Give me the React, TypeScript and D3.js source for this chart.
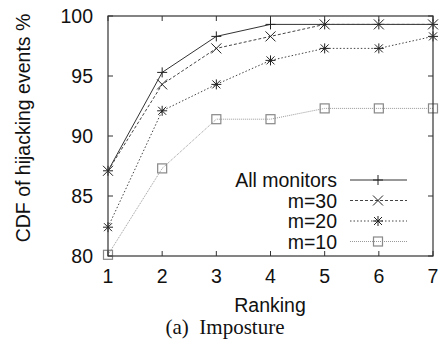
import React from "react";
import * as d3 from "d3";

const rankings = [1, 2, 3, 4, 5, 6, 7];
const seriesNames = ["All monitors", "m=30", "m=20", "m=10"];
const allMonitors = [87.1, 95.3, 98.3, 99.3, 99.3, 99.3, 99.3];
const m30 = [87.1, 94.3, 97.3, 98.3, 99.3, 99.3, 99.3];
const m20 = [82.4, 92.1, 94.3, 96.3, 97.3, 97.3, 98.3];
const m10 = [80.1, 87.3, 91.4, 91.4, 92.3, 92.3, 92.3];
const yTicks = [80, 85, 90, 95, 100];

const W = 442, H = 343;
const M = { left: 108, right: 433, top: 16, bottom: 256 };

const styles = [
  { values: allMonitors, color: "#333", dash: "", marker: "plus", width: 1 },
  { values: m30, color: "#444", dash: "3,2", marker: "cross", width: 1 },
  { values: m20, color: "#444", dash: "1.5,2", marker: "star", width: 1 },
  { values: m10, color: "#999", dash: "1,1", marker: "square", width: 1 },
];

function Marker({ type, x, y, color }: { type: string; x: number; y: number; color: string }) {
  const s = 5;
  if (type === "plus")
    return <path d={`M${x - s},${y}H${x + s}M${x},${y - s}V${y + s}`} stroke={color} strokeWidth={1} fill="none" />;
  if (type === "cross")
    return <path d={`M${x - s},${y - s}L${x + s},${y + s}M${x - s},${y + s}L${x + s},${y - s}`} stroke={color} strokeWidth={1} fill="none" />;
  if (type === "star")
    return (
      <path
        d={`M${x - s},${y}H${x + s}M${x},${y - s}V${y + s}M${x - 4},${y - 4}L${x + 4},${y + 4}M${x - 4},${y + 4}L${x + 4},${y - 4}`}
        stroke={color}
        strokeWidth={1}
        fill="none"
      />
    );
  return <rect x={x - 4.5} y={y - 4.5} width={9} height={9} stroke={color} strokeWidth={1.2} fill="none" />;
}

export default function App() {
  const x = d3.scaleLinear().domain([1, 7]).range([M.left, M.right]);
  const y = d3.scaleLinear().domain([80, 100]).range([M.bottom, M.top]);
  const line = d3
    .line<number>()
    .x((_, i) => x(rankings[i]))
    .y((d) => y(d));
  const font = "'Liberation Sans', Arial, Helvetica, sans-serif";
  const tl = 5;
  return (
    <svg width={W} height={H} style={{ position: "absolute", left: 0, top: 0, background: "#fff" }}>
      <rect x={0} y={0} width={W} height={H} fill="#fff" />
      {yTicks.map((t) => (
        <g key={"y" + t}>
          <line x1={M.left} x2={M.left + tl} y1={y(t)} y2={y(t)} stroke="#333" />
          <line x1={M.right} x2={M.right - tl} y1={y(t)} y2={y(t)} stroke="#333" />
          <text x={M.left - 15} y={y(t)} dy="0.36em" textAnchor="end" fontFamily={font} fontSize={19.5} fill="#111">
            {t}
          </text>
        </g>
      ))}
      {rankings.map((r) => (
        <g key={"x" + r}>
          <line x1={x(r)} x2={x(r)} y1={M.bottom} y2={M.bottom - tl} stroke="#333" />
          <line x1={x(r)} x2={x(r)} y1={M.top} y2={M.top + tl} stroke="#333" />
          <text x={x(r)} y={283} textAnchor="middle" fontFamily={font} fontSize={19.5} fill="#111">
            {r}
          </text>
        </g>
      ))}
      {styles.map((s, k) => (
        <g key={k}>
          <path d={line(s.values) || ""} fill="none" stroke={s.color} strokeWidth={s.width} strokeDasharray={s.dash} />
          {s.values.map((v, i) => (
            <Marker key={i} type={s.marker} x={x(rankings[i])} y={y(v)} color={s.color === "#999" ? "#888" : "#222"} />
          ))}
        </g>
      ))}
      <rect x={M.left} y={M.top} width={M.right - M.left} height={M.bottom - M.top} fill="none" stroke="#333" strokeWidth={1.2} />
      {seriesNames.map((n, k) => {
        const ly = 180 + k * 20.5;
        const s = styles[k];
        return (
          <g key={n}>
            <text x={337} y={ly} dy="0.36em" textAnchor="end" fontFamily={font} fontSize={19.5} fill="#111">
              {n}
            </text>
            <line x1={350} x2={407} y1={ly} y2={ly} stroke={s.color} strokeDasharray={s.dash} />
            <Marker type={s.marker} x={378} y={ly} color={s.color === "#999" ? "#888" : "#222"} />
          </g>
        );
      })}
      <text x={270} y={312} textAnchor="middle" fontFamily={font} fontSize={19.5} fill="#111">
        Ranking
      </text>
      <text transform={`translate(30,128) rotate(-90)`} textAnchor="middle" fontFamily={font} fontSize={19.5} fill="#111">
        CDF of hijacking events %
      </text>
      <text
        x={225}
        y={334}
        textAnchor="middle"
        fontFamily="'Liberation Serif', 'Times New Roman', serif"
        fontSize={21}
        fill="#111"
        style={{ whiteSpace: "pre" }}
      >
        {"(a)  Imposture"}
      </text>
    </svg>
  );
}
